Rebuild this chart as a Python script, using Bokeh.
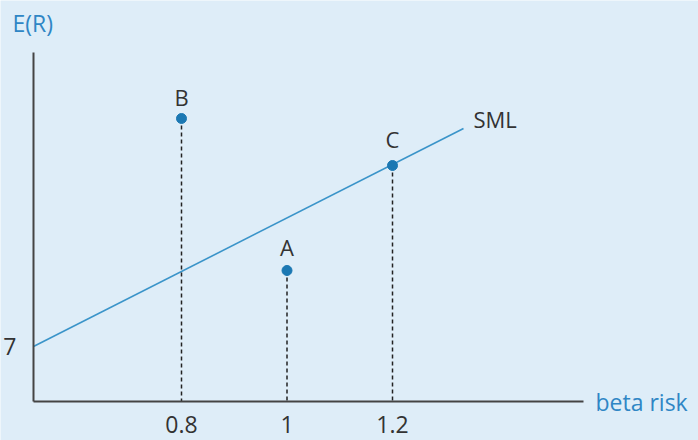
from bokeh.plotting import figure
from bokeh.models import Range1d, FixedTicker, Label, ColumnDataSource
from bokeh.embed import file_html
from bokeh.resources import INLINE
from bokeh.core.properties import value

# ---- data ----
points = ["A", "B", "C"]
beta = [1.0, 0.8, 1.2]
expected_return = [10.8, 18.4, 16.05]
sml_beta = [0.5194, 1.3346]
sml_return = [7.0, 17.9]
x_ticks = [0.8, 1.0, 1.2]
x_tick_labels = ["0.8", "1", "1.2"]
y_ticks = [7]
y_tick_labels = ["7"]

# axis extents (data units)
axis_x0, axis_x1 = 0.5194, 1.5621
axis_y0, axis_y1 = 4.25, 21.7

BG = "#deedf8"
AXIS = "#444444"
LINE_BLUE = "#3a94c9"
POINT_BLUE = "#1b78b3"
LABEL_BLUE = "#2f86c5"
TEXT = "#333333"
FONT = "Open Sans"

p = figure(width=698, height=440,
           x_range=Range1d(0.45687, 1.78009), y_range=Range1d(2.3, 24.3),
           output_backend="svg", toolbar_location=None, min_border=0,
           background_fill_color=BG, border_fill_color=BG,
           outline_line_color=None)
p.grid.visible = False

# x axis
xa = p.xaxis[0]
xa.fixed_location = axis_y0
xa.bounds = (axis_x0, axis_x1)
xa.ticker = FixedTicker(ticks=x_ticks)
xa.major_label_overrides = {t: l for t, l in zip(x_ticks, x_tick_labels)}
xa.axis_line_color = AXIS
xa.axis_line_width = 2
xa.major_tick_line_color = None
xa.minor_tick_line_color = None
xa.major_label_standoff = 8
xa.major_label_text_font = FONT
xa.major_label_text_font_size = "23px"
xa.major_label_text_color = TEXT

# y axis
ya = p.yaxis[0]
ya.fixed_location = axis_x0
ya.bounds = (axis_y0, axis_y1)
ya.ticker = FixedTicker(ticks=y_ticks)
ya.major_label_overrides = {t: l for t, l in zip(y_ticks, y_tick_labels)}
ya.axis_line_color = AXIS
ya.axis_line_width = 2
ya.major_tick_line_color = None
ya.minor_tick_line_color = None
ya.major_label_standoff = 11
ya.major_label_text_font = FONT
ya.major_label_text_font_size = "23px"
ya.major_label_text_color = TEXT

# SML line
p.line(sml_beta, sml_return, line_color=LINE_BLUE, line_width=1.6)
p.text(x=[sml_beta[-1]], y=[sml_return[-1]], text=["SML"], x_offset=10, y_offset=-10,
       text_align="left", text_baseline="middle", text_color=TEXT,
       text_font=value(FONT), text_font_size=value("22px"))

# dashed drop lines
src = ColumnDataSource(dict(name=points, beta=beta, er=expected_return,
                            base=[axis_y0] * len(beta), dy=[-24, -22, -27]))
p.segment(x0="beta", y0="er", x1="beta", y1="base", source=src,
          line_color="#222222", line_width=1.5, line_dash="4 3")
p.scatter(x="beta", y="er", source=src, size=10, color=POINT_BLUE)
p.text(x="beta", y="er", text="name", y_offset="dy", source=src,
       text_align="center", text_baseline="middle", text_color=TEXT,
       text_font=value(FONT), text_font_size=value("22px"))

# axis titles
p.add_layout(Label(x=0.4796, y=23.2, text="E(R)", text_align="left", text_baseline="middle",
                   text_color=LABEL_BLUE, text_font=FONT, text_font_size="23px"))
p.add_layout(Label(x=1.5848, y=axis_y0, text="beta risk", text_align="left", text_baseline="middle",
                   text_color=LABEL_BLUE, text_font=FONT, text_font_size="23px"))

open("out.html", "w").write(file_html(p, INLINE))
